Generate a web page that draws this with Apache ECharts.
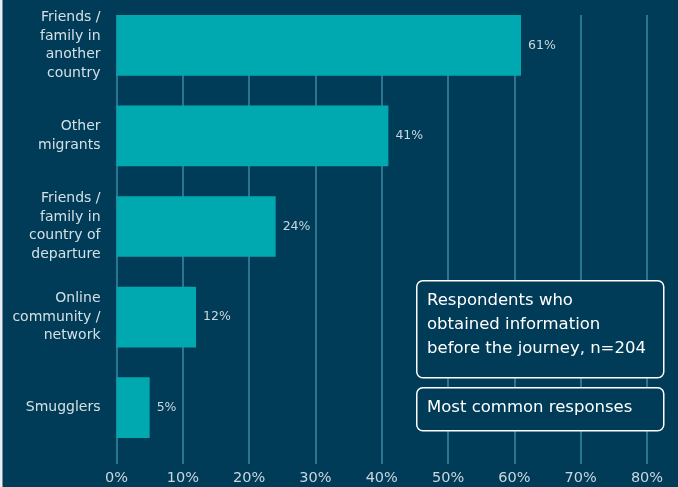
<!DOCTYPE html>
<html><head><meta charset="utf-8">
<script src="https://cdn.jsdelivr.net/npm/echarts@6/dist/echarts.min.js"></script>
<style>html,body{margin:0;padding:0;background:#003b57;}#c{width:678px;height:487px;}</style>
</head><body><div id="c"></div>
<script>
var categories = ["Friends /\nfamily in\nanother\ncountry", "Other\nmigrants", "Friends /\nfamily in\ncountry of\ndeparture", "Online\ncommunity /\nnetwork", "Smugglers"];
var values = [61, 41, 24, 12, 5];
var xTicks = [0, 10, 20, 30, 40, 50, 60, 70, 80];
var boxText1 = "Respondents who\nobtained information\nbefore the journey, n=204";
var boxText2 = "Most common responses";

var FONT = "'DejaVu Sans', 'Noto Sans', sans-serif";
var chart = echarts.init(document.getElementById('c'));
chart.setOption({
  backgroundColor: '#003b57',
  animation: false,
  grid: [
    {left: 116.5, right: 31, top: 0, height: 453, containLabel: false},
    {left: 116.5, right: 31, top: 15, bottom: 23, containLabel: false}
  ],
  xAxis: [
    {gridIndex: 0, type: 'value', min: xTicks[0], max: xTicks[xTicks.length-1], interval: 10,
     axisLine: {show: false}, axisTick: {show: false}, axisLabel: {show: false}, splitLine: {show: false}},
    {gridIndex: 1, type: 'value', min: xTicks[0], max: xTicks[xTicks.length-1], interval: 10,
     axisLine: {show: false}, axisTick: {show: false},
     axisLabel: {color: '#c9d7de', fontSize: 14.5, fontFamily: FONT, margin: 7, formatter: '{value}%'},
     splitLine: {show: true, lineStyle: {color: '#2a7592', width: 2}}}
  ],
  yAxis: [
    {gridIndex: 0, type: 'category', data: categories, inverse: true,
     axisLine: {show: false}, axisTick: {show: false}, splitLine: {show: false},
     axisLabel: {color: '#d3e0e6', fontSize: 14, fontFamily: FONT, lineHeight: 18.5, align: 'right', margin: 16}},
    {gridIndex: 1, type: 'category', data: categories, show: false}
  ],
  series: [{
    type: 'bar', xAxisIndex: 0, yAxisIndex: 0, data: values,
    barCategoryGap: '33%',
    itemStyle: {color: '#00a9b0'},
    label: {show: true, position: 'right', distance: 7, formatter: '{c}%', color: '#c9d7de', fontSize: 12.5, fontFamily: FONT},
    z: 3
  }],
  graphic: [
    {type: 'rect', left: 0, top: 0, shape: {width: 2.5, height: 487}, style: {fill: '#e8eef1'}, z: 20},
    {type: 'rect', left: 416, top: 280, shape: {width: 247, height: 97, r: 6},
     style: {fill: '#003b57', stroke: '#ffffff', lineWidth: 1.5}, z: 10},
    {type: 'text', left: 427, top: 289, z: 11,
     style: {text: boxText1, fill: '#ffffff', font: '16.5px ' + FONT, lineHeight: 24}},
    {type: 'rect', left: 416, top: 387, shape: {width: 247, height: 43, r: 6},
     style: {fill: '#003b57', stroke: '#ffffff', lineWidth: 1.5}, z: 10},
    {type: 'text', left: 427, top: 397, z: 11,
     style: {text: boxText2, fill: '#ffffff', font: '16.5px ' + FONT, lineHeight: 22}}
  ]
});
</script></body></html>
